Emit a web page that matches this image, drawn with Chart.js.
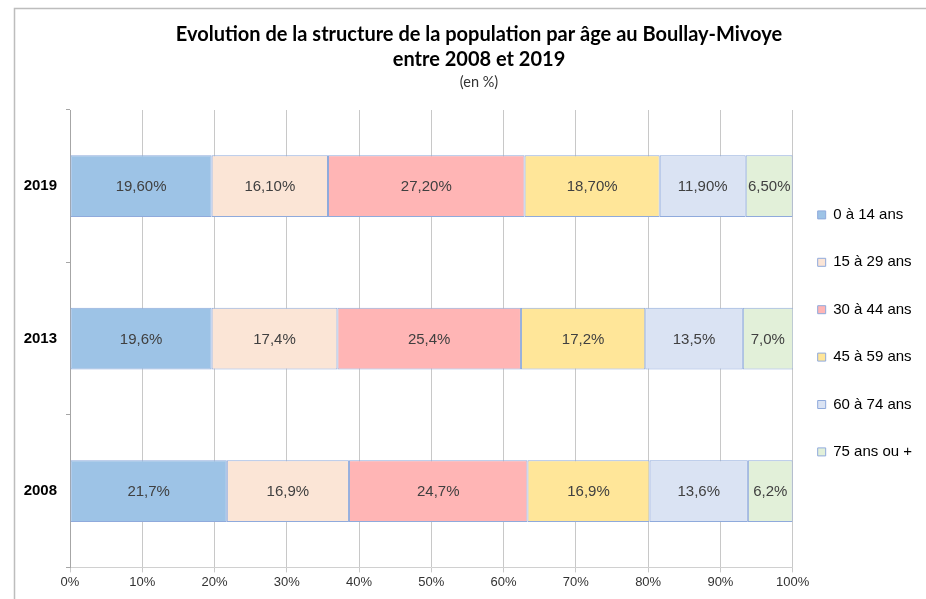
<!DOCTYPE html>
<html><head><meta charset="utf-8">
<script src="https://cdn.jsdelivr.net/npm/chart.js@4.4.1/dist/chart.umd.min.js"></script>
<style>html,body{margin:0;padding:0;background:#fff;}canvas{display:block;}</style>
</head><body>
<canvas id="c" width="926" height="599"></canvas>
<script>
// ---- data ----
const years = ['2019', '2013', '2008'];
const ageGroups = ['0 à 14 ans', '15 à 29 ans', '30 à 44 ans', '45 à 59 ans', '60 à 74 ans', '75 ans ou +'];
const age0to14  = [19.6, 19.6, 21.7];
const age15to29 = [16.1, 17.4, 16.9];
const age30to44 = [27.2, 25.4, 24.7];
const age45to59 = [18.7, 17.2, 16.9];
const age60to74 = [11.9, 13.5, 13.6];
const age75plus = [6.5, 7.0, 6.2];
const labelDecimals = [2, 1, 1];   // 2019 labels shown as "19,60%", others "19,6%"
const xTickValues = [0, 10, 20, 30, 40, 50, 60, 70, 80, 90, 100];
const titleLines = ['Evolution de la structure de la population par âge au Boullay-Mivoye', 'entre 2008 et 2019'];
const subtitleText = '(en %)';

// ---- styles ----
const fills = ['#9DC3E6', '#FBE5D6', '#FFB5B5', '#FFE699', '#DAE3F3', '#E2F0D9'];
const edge = '#8FAADC';
const seriesValues = [age0to14, age15to29, age30to44, age45to59, age60to74, age75plus];
const SANS = "'Liberation Sans', Arial, sans-serif";

const frame = {
  id: 'frame',
  beforeDraw(chart) {
    const ctx = chart.ctx;
    ctx.save();
    ctx.strokeStyle = '#bdbdbd';
    ctx.lineWidth = 1.5;
    ctx.beginPath();
    ctx.moveTo(14.5, 1000);
    ctx.lineTo(14.5, 8.5);
    ctx.lineTo(1000, 8.5);
    ctx.stroke();
    ctx.restore();
  }
};

// title block is centred a little right of the canvas centre in the reference
const titleShift = {
  id: 'titleShift',
  afterLayout(chart) {
    chart.boxes.forEach(b => {
      if (b.position === 'top') { b.left += 8; b.right += 8; }
    });
  }
};

const barLabels = {
  id: 'barLabels',
  afterDatasetsDraw(chart) {
    const ctx = chart.ctx;
    ctx.save();
    ctx.font = '15px ' + SANS;
    ctx.fillStyle = '#404040';
    ctx.textAlign = 'center';
    ctx.textBaseline = 'middle';
    chart.data.datasets.forEach((ds, i) => {
      const meta = chart.getDatasetMeta(i);
      meta.data.forEach((bar, j) => {
        const v = ds.data[j];
        const txt = v.toFixed(labelDecimals[j]).replace('.', ',') + '%';
        const right = Math.min(bar.x, chart.chartArea.right);
        ctx.fillText(txt, (right + bar.base) / 2, bar.y + 1);
      });
    });
    ctx.restore();
  }
};

new Chart(document.getElementById('c'), {
  type: 'bar',
  data: {
    labels: years,
    datasets: ageGroups.map((g, i) => ({
      label: g,
      data: seriesValues[i],
      backgroundColor: fills[i],
      borderColor: edge,
      borderWidth: 1,
      borderSkipped: false
    }))
  },
  options: {
    responsive: false,
    animation: false,
    indexAxis: 'y',
    layout: { padding: { left: 20, right: 4, top: 0, bottom: 7 } },
    datasets: { bar: { barPercentage: 0.405, categoryPercentage: 1 } },
    scales: {
      x: {
        stacked: true, min: 0, max: 100,
        afterBuildTicks: s => { s.ticks = xTickValues.map(v => ({ value: v })); },
        ticks: { callback: v => v + '%', color: '#333', font: { family: SANS, size: 13 }, padding: 2, maxRotation: 0 },
        grid: { color: '#c8c8c8', tickLength: 5 },
        border: { color: '#d0d0d0' }
      },
      y: {
        stacked: true,
        afterFit: s => { s.width = 50; },
        ticks: { color: '#000', font: { family: SANS, size: 15, weight: 'bold' }, padding: 9 },
        grid: { drawOnChartArea: false, tickLength: 4, color: '#a6a6a6', offset: true },
        border: { color: '#a6a6a6' }
      }
    },
    plugins: {
      title: {
        display: true, text: titleLines, color: '#000',
        font: { family: 'Lato', size: 20, weight: 'bold', lineHeight: 25 / 20 },
        padding: { top: 22, bottom: 0 }
      },
      subtitle: {
        display: true, text: subtitleText, color: '#333',
        font: { family: 'Lato', size: 14.5, weight: 'normal', lineHeight: 1.2 },
        padding: { top: 1.5, bottom: 19.1 }
      },
      legend: {
        position: 'right', align: 'start',
        title: { display: true, text: '', padding: { top: 168, bottom: 0 } },
        labels: {
          boxWidth: 8, boxHeight: 8, padding: 25, color: '#000',
          font: { family: SANS, size: 15, lineHeight: '22.4px' },
          generateLabels: chart => Chart.defaults.plugins.legend.labels.generateLabels(chart).map(l => Object.assign({}, l, { text: [l.text] }))
        }
      },
      tooltip: { enabled: false }
    }
  },
  plugins: [frame, titleShift, barLabels]
});
</script>
</body></html>
